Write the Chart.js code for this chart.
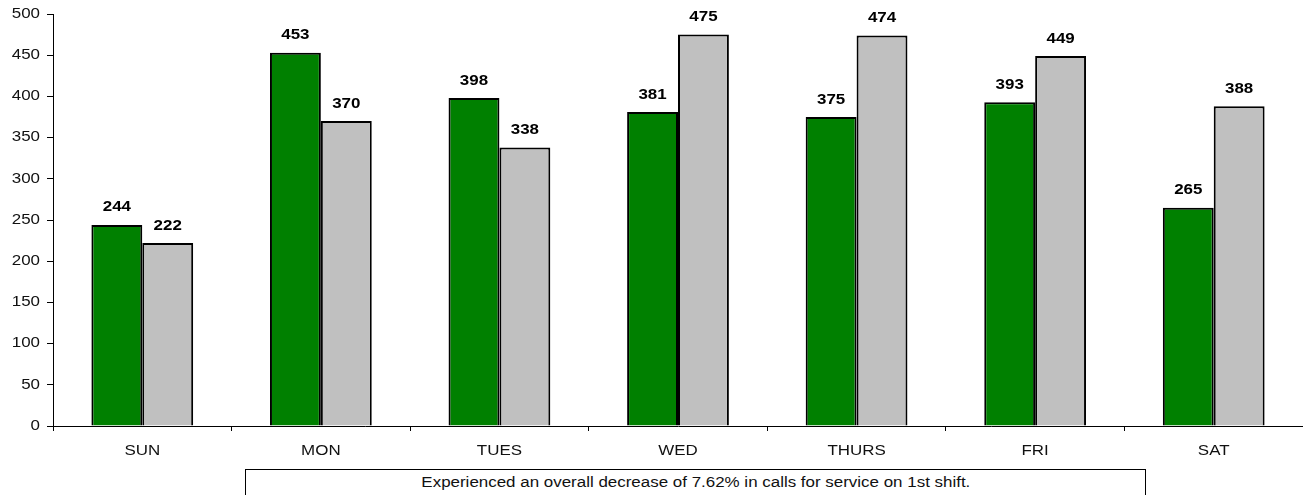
<!DOCTYPE html>
<html>
<head>
<meta charset="utf-8">
<script src="https://cdn.jsdelivr.net/npm/chart.js@4.4.0/dist/chart.umd.min.js"></script>
<style>
  html, body { margin: 0; padding: 0; background: #fff; overflow: hidden; }
  #wrap { position: relative; width: 1303px; height: 495px; }
  #c { position: absolute; left: 0; top: 0; }
  #note {
    position: absolute; left: 245px; top: 469px; width: 901px; height: 40px;
    border: 1px solid #000; box-sizing: border-box; background: #fff;
    font-family: "Liberation Sans", Arial, sans-serif; font-size: 14px;
    text-align: center; line-height: 24px; color: #111;
  }
  #note span { display: inline-block; transform: scaleX(1.21); transform-origin: center; white-space: nowrap; }
</style>
</head>
<body>
<div id="wrap">
  <canvas id="c" width="1303" height="495"></canvas>
  <div id="note"><span>Experienced an overall decrease of 7.62% in calls for service on 1st shift.</span></div>
</div>
<script>
const categories = ["SUN", "MON", "TUES", "WED", "THURS", "FRI", "SAT"];
const seriesCurrent = [244, 453, 398, 381, 375, 393, 265];
const seriesPrevious = [222, 370, 338, 475, 474, 449, 388];
const yTicks = [0, 50, 100, 150, 200, 250, 300, 350, 400, 450, 500];

const FONT = '"Liberation Sans", Arial, sans-serif';
const STRETCH = 1.21;

function stretchedText(ctx, text, x, y) {
  ctx.save();
  ctx.translate(x, y);
  ctx.scale(STRETCH, 1);
  ctx.fillText(text, 0, 0);
  ctx.restore();
}

const labelPlugin = {
  id: 'textLabels',
  afterDraw(chart) {
    const ctx = chart.ctx;
    const xs = chart.scales.x, ys = chart.scales.y;
    ctx.save();
    // bar value labels
    ctx.font = 'bold 14px ' + FONT;
    ctx.fillStyle = '#000';
    ctx.textAlign = 'center';
    ctx.textBaseline = 'alphabetic';
    chart.data.datasets.forEach((ds, i) => {
      chart.getDatasetMeta(i).data.forEach((bar, j) => {
        stretchedText(ctx, String(ds.data[j]), bar.x, bar.y - 13.5);
      });
    });
    // x category labels
    ctx.font = '14px ' + FONT;
    ctx.fillStyle = '#111';
    ctx.textBaseline = 'middle';
    categories.forEach((c, i) => {
      stretchedText(ctx, c, xs.getPixelForValue(i), xs.top + 25);
    });
    // y tick labels
    ctx.textAlign = 'right';
    yTicks.forEach(v => {
      stretchedText(ctx, String(v), xs.left - 13, ys.getPixelForValue(v));
    });
    ctx.restore();
  }
};

new Chart(document.getElementById('c'), {
  type: 'bar',
  data: {
    labels: categories,
    datasets: [
      { data: seriesCurrent, backgroundColor: '#008000', borderColor: '#000', borderWidth: 2, categoryPercentage: 0.57, barPercentage: 1.0 },
      { data: seriesPrevious, backgroundColor: '#C0C0C0', borderColor: '#000', borderWidth: 2, categoryPercentage: 0.57, barPercentage: 1.0 }
    ]
  },
  options: {
    responsive: false,
    animation: false,
    layout: { padding: { top: 14, right: 0, bottom: 0, left: 0 } },
    plugins: { legend: { display: false }, tooltip: { enabled: false } },
    scales: {
      x: {
        offset: true,
        grid: { offset: true, drawOnChartArea: false, drawTicks: true, tickLength: 5, color: '#000' },
        border: { display: true, color: '#000', width: 1 },
        ticks: { display: false },
        afterFit(s) { s.height = 69; }
      },
      y: {
        min: 0, max: 500,
        afterBuildTicks(s) { s.ticks = yTicks.map(v => ({ value: v })); },
        grid: { drawOnChartArea: false, drawTicks: true, tickLength: 6, color: '#000' },
        border: { display: true, color: '#000', width: 1 },
        ticks: { display: false },
        afterFit(s) { s.width = 53; }
      }
    }
  },
  plugins: [labelPlugin]
});
</script>
</body>
</html>
